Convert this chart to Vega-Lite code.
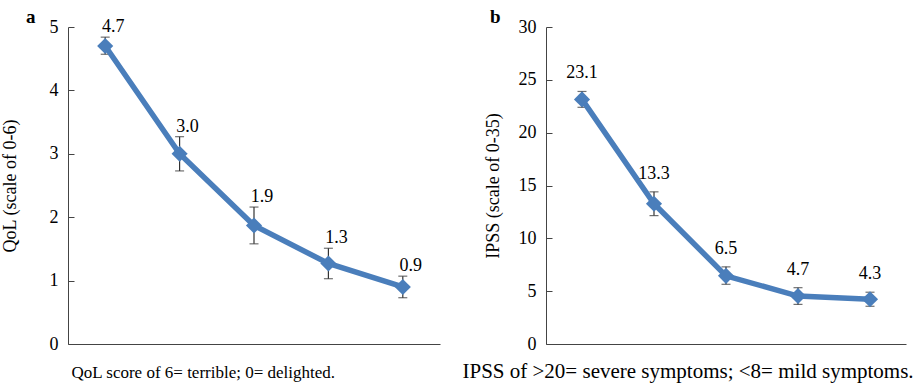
{
  "$schema": "https://vega.github.io/schema/vega-lite/v6.json",
  "padding": {"left": 1, "top": 8, "right": 5, "bottom": 5},
  "background": "white",
  "bounds": "flush",
  "spacing": 106,
  "config": {
    "view": {"stroke": null},
    "font": "Liberation Serif",
    "axis": {
      "grid": false,
      "domainColor": "#444",
      "tickColor": "#444",
      "labelColor": "#000",
      "titleColor": "#000",
      "labelFont": "Liberation Serif",
      "titleFont": "Liberation Serif",
      "labelFontSize": 18,
      "titleFontSize": 18,
      "titleFontWeight": "normal"
    },
    "title": {"font": "Liberation Serif", "fontSize": 19, "fontWeight": "bold", "color": "#000"}
  },
  "hconcat": [
    {
      "width": 372,
      "height": 317,
      "title": {"text": "a", "anchor": "start", "frame": "group", "dx": -42, "offset": -9},
      "data": {"values": [
        {"i": "1", "v": 4.7, "lo": 4.57, "hi": 4.84, "lab": "4.7"},
        {"i": "2", "v": 3.0, "lo": 2.73, "hi": 3.27, "lab": "3.0"},
        {"i": "3", "v": 1.87, "lo": 1.58, "hi": 2.16, "lab": "1.9"},
        {"i": "4", "v": 1.27, "lo": 1.03, "hi": 1.51, "lab": "1.3"},
        {"i": "5", "v": 0.9, "lo": 0.73, "hi": 1.07, "lab": "0.9"}
      ]},
      "encoding": {
        "x": {"field": "i", "type": "ordinal", "scale": {"type": "point", "padding": 0.5},
          "axis": {"labels": false, "ticks": false, "title": "QoL score of 6= terrible; 0= delighted.", "titleFontSize": 17, "titleAnchor": "start", "titleAlign": "left", "titleX": 3, "titleY": 33, "titleBaseline": "alphabetic"}}
      },
      "layer": [
        {
          "mark": {"type": "errorbar", "ticks": {"size": 9, "color": "#333", "strokeWidth": 1.2}, "color": "#333", "thickness": 1.2},
          "encoding": {
            "y": {"field": "lo", "type": "quantitative", "scale": {"domain": [0, 5]}, "axis": {"title": "QoL (scale of 0-6)", "values": [0,1,2,3,4,5], "format": "d", "tickSize": -6, "labelPadding": 16, "titleX": -49}},
            "y2": {"field": "hi"}
          }
        },
        {
          "mark": {"type": "line", "color": "#4A7EBB", "strokeWidth": 5.5},
          "encoding": {"y": {"field": "v", "type": "quantitative"}}
        },
        {
          "mark": {"type": "point", "shape": "diamond", "filled": true, "color": "#4A7EBB", "size": 260, "opacity": 1},
          "encoding": {"y": {"field": "v", "type": "quantitative"}}
        },
        {
          "mark": {"type": "text", "fontSize": 18, "baseline": "alphabetic", "dx": 8, "dy": -5, "color": "#000"},
          "encoding": {"y": {"field": "hi", "type": "quantitative"}, "text": {"field": "lab"}}
        }
      ]
    },
    {
      "width": 360,
      "height": 317,
      "title": {"text": "b", "anchor": "start", "frame": "group", "dx": -56, "offset": -9},
      "data": {"values": [
        {"i": "1", "v": 23.15, "lo": 22.4, "hi": 23.9, "lab": "23.1"},
        {"i": "2", "v": 13.27, "lo": 12.15, "hi": 14.4, "lab": "13.3"},
        {"i": "3", "v": 6.45, "lo": 5.65, "hi": 7.3, "lab": "6.5"},
        {"i": "4", "v": 4.54, "lo": 3.75, "hi": 5.33, "lab": "4.7"},
        {"i": "5", "v": 4.23, "lo": 3.57, "hi": 4.9, "lab": "4.3"}
      ]},
      "encoding": {
        "x": {"field": "i", "type": "ordinal", "scale": {"type": "point", "padding": 0.5},
          "axis": {"labels": false, "ticks": false, "title": "IPSS of >20= severe symptoms; <8= mild symptoms.", "titleFontSize": 21, "titleAnchor": "start", "titleAlign": "left", "titleX": -84, "titleY": 33, "titleBaseline": "alphabetic"}}
      },
      "layer": [
        {
          "mark": {"type": "errorbar", "ticks": {"size": 9, "color": "#333", "strokeWidth": 1.2}, "color": "#333", "thickness": 1.2},
          "encoding": {
            "y": {"field": "lo", "type": "quantitative", "scale": {"domain": [0, 30]}, "axis": {"title": "IPSS (scale of 0-35)", "values": [0,5,10,15,20,25,30], "format": "d", "tickSize": -6, "labelPadding": 16, "titleX": -44}},
            "y2": {"field": "hi"}
          }
        },
        {
          "mark": {"type": "line", "color": "#4A7EBB", "strokeWidth": 5.5},
          "encoding": {"y": {"field": "v", "type": "quantitative"}}
        },
        {
          "mark": {"type": "point", "shape": "diamond", "filled": true, "color": "#4A7EBB", "size": 260, "opacity": 1},
          "encoding": {"y": {"field": "v", "type": "quantitative"}}
        },
        {
          "mark": {"type": "text", "fontSize": 18, "baseline": "alphabetic", "dx": 0, "dy": -13, "color": "#000"},
          "encoding": {"y": {"field": "hi", "type": "quantitative"}, "text": {"field": "lab"}}
        }
      ]
    }
  ]
}
